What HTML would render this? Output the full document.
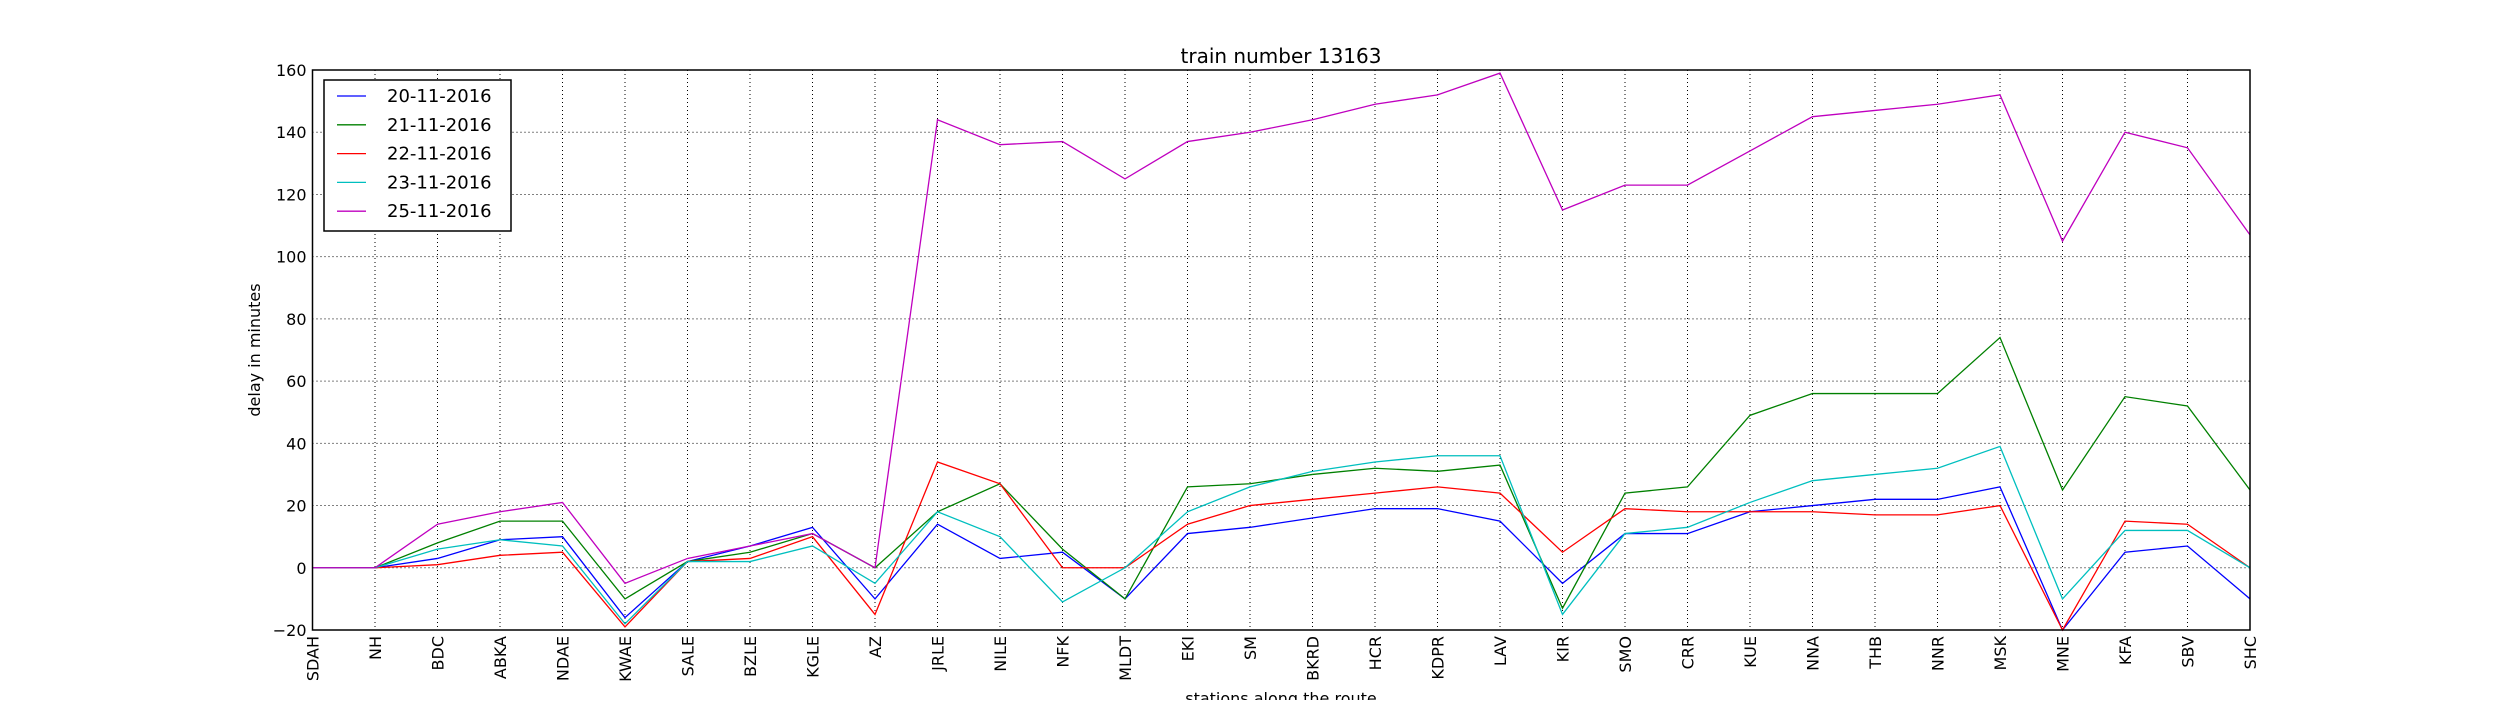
<!DOCTYPE html>
<html><head><meta charset="utf-8"><style>
html,body{margin:0;padding:0;background:#fff;}
svg text{font-family:"DejaVu Sans","Liberation Sans",sans-serif;fill:#000;}
</style></head><body>
<svg id="chart" width="2500" height="700" viewBox="0 0 2500 700" xmlns="http://www.w3.org/2000/svg">
<rect width="2500" height="700" fill="#fff"/>
<g id="grid"></g>
<g id="lines"></g>
<rect x="312.5" y="70" width="1937.5" height="560" fill="none" stroke="#000" stroke-width="1.5"/>
<g id="yticks"></g>
<g id="xticks"></g>
<text x="1281" y="63" font-size="20" text-anchor="middle">train number 13163</text>
<text x="0" y="0" font-size="16" text-anchor="middle" transform="translate(260,350) rotate(-90)">delay in minutes</text>
<text x="1281" y="704" font-size="16" text-anchor="middle">stations along the route</text>
<g id="legend"></g>
</svg>
<script>
const stations = ["SDAH","NH","BDC","ABKA","NDAE","KWAE","SALE","BZLE","KGLE","AZ","JRLE","NILE","NFK","MLDT","EKI","SM","BKRD","HCR","KDPR","LAV","KIR","SMO","CRR","KUE","NNA","THB","NNR","MSK","MNE","KFA","SBV","SHC"];
const seriesNames = ["20-11-2016","21-11-2016","22-11-2016","23-11-2016","25-11-2016"];
const s20 = [0,0,3,9,10,-16,2,7,13,-10,14,3,5,-10,11,13,16,19,19,15,-5,11,11,18,20,22,22,26,-20,5,7,-10];
const s21 = [0,0,8,15,15,-10,2,5,11,0,18,27,6,-10,26,27,30,32,31,33,-13,24,26,49,56,56,56,74,25,55,52,25];
const s22 = [0,0,1,4,5,-19,2,3,10,-15,34,27,0,0,14,20,22,24,26,24,5,19,18,18,18,17,17,20,-20,15,14,0];
const s23 = [0,0,6,9,7,-18,2,2,7,-5,18,10,-11,0,18,26,31,34,36,36,-15,11,13,21,28,30,32,39,-10,12,12,0];
const s25 = [0,0,14,18,21,-5,3,7,11,0,144,136,137,125,137,140,144,149,152,159,115,123,123,134,145,147,149,152,105,140,135,107];
const yTicks = [-20,0,20,40,60,80,100,120,140,160];

const NS="http://www.w3.org/2000/svg";
const L=312.5,R=2250,T=70,B=630,yMin=-20,yMax=160;
const colors=["#0000ff","#008000","#ff0000","#00bfbf","#bf00bf"];
const allSeries=[s20,s21,s22,s23,s25];
function xs(i){return L+(R-L)*i/(stations.length-1);}
function ys(v){return B-(B-T)*(v-yMin)/(yMax-yMin);}
function mk(tag,attrs,parent){const e=document.createElementNS(NS,tag);for(const k in attrs)e.setAttribute(k,attrs[k]);parent.appendChild(e);return e;}
const grid=document.getElementById('grid'),lines=document.getElementById('lines'),yt=document.getElementById('yticks'),xt=document.getElementById('xticks'),lg=document.getElementById('legend');
yTicks.forEach(v=>{
  const y=ys(v);
  if(v>yMin&&v<yMax){const g=mk('line',{x1:L,x2:R,y1:y,y2:y,stroke:'#000','stroke-width':1,'stroke-dasharray':'1,3'},grid);
  
  }
  const t=mk('text',{x:L-6,y:y+6,'font-size':16,'text-anchor':'end'},yt);
  t.textContent=v<0?'\u2212'+Math.abs(v):String(v);
  
  
});
stations.forEach((s,i)=>{
  const x=xs(i);
  if(i>0&&i<stations.length-1){const g=mk('line',{x1:x,x2:x,y1:T,y2:B,stroke:'#000','stroke-width':1,'stroke-dasharray':'1,3'},grid);
  
  }
  const t=mk('text',{x:0,y:0,'font-size':16,'text-anchor':'end',transform:`translate(${x+6},${B+6}) rotate(-90)`},xt);
  t.textContent=s;
  
  
});
allSeries.forEach((arr,k)=>{
  const p=mk('polyline',{points:arr.map((v,i)=>xs(i)+','+ys(v)).join(' '),fill:'none',stroke:colors[k],'stroke-width':1.3},lines);
  
  
});
const box=mk('rect',{x:324,y:80,width:187,height:151,fill:'#fff',stroke:'#000','stroke-width':1.5},lg);


seriesNames.forEach((n,k)=>{
  const y=96+k*28.8;
  const l=mk('line',{x1:337,x2:366,y1:y,y2:y,stroke:colors[k],'stroke-width':1.3},lg);
  
  
  const t=mk('text',{x:387,y:y+6,'font-size':18},lg);
  t.textContent=n;
  
  
});
</script>
</body></html>
